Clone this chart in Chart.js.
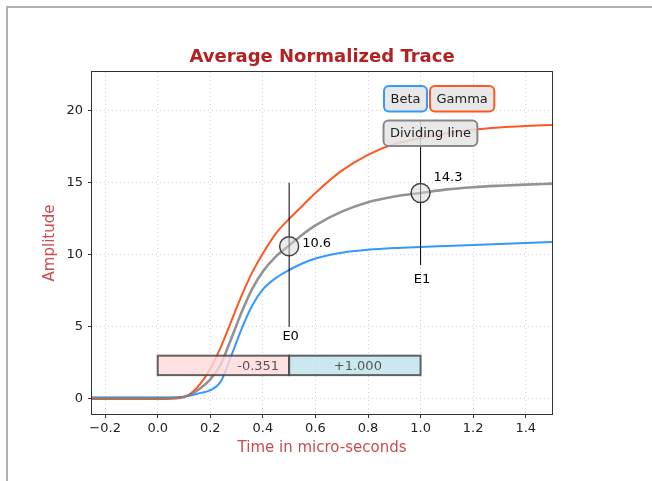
<!DOCTYPE html>
<html>
<head>
<meta charset="utf-8">
<script src="https://cdn.jsdelivr.net/npm/chart.js@4.4.0/dist/chart.umd.min.js"></script>
<style>
  html, body { margin: 0; padding: 0; background: #fff; }
  #wrap { position: relative; width: 652px; height: 481px; overflow: hidden; }
  #frame { position: absolute; left: 6px; top: 6px; width: 800px; height: 600px;
           border-left: 2px solid #b0b0b0; border-top: 2px solid #b0b0b0; }
  canvas { position: absolute; left: 0; top: 0; }
</style>
</head>
<body>
<div id="wrap">
  <div id="frame"></div>
  <canvas id="trace-chart" width="652" height="481"></canvas>
</div>
<script>
// sample times (micro-seconds) and the three traces
const times   = [-0.25, 0, 0.08, 0.12, 0.16, 0.2, 0.24, 0.28, 0.32, 0.36, 0.4, 0.45, 0.5, 0.55, 0.6, 0.7, 0.8, 0.9, 1.0, 1.1, 1.2, 1.3, 1.4, 1.5];
const beta    = [0.1, 0.1, 0.12, 0.22, 0.4, 0.6, 1.2, 3.0, 4.9, 6.5, 7.6, 8.4, 8.95, 9.4, 9.75, 10.15, 10.35, 10.47, 10.55, 10.62, 10.69, 10.76, 10.83, 10.9];
const gamma   = [0, 0, 0.05, 0.3, 1.0, 2.1, 3.6, 5.4, 7.2, 8.8, 10.1, 11.5, 12.5, 13.4, 14.3, 15.85, 16.95, 17.7, 18.1, 18.45, 18.7, 18.85, 18.95, 19.02];
const average = [0.05, 0.05, 0.085, 0.26, 0.7, 1.35, 2.4, 4.2, 6.05, 7.65, 8.85, 9.9, 10.65, 11.4, 12.05, 13.0, 13.65, 14.05, 14.3, 14.55, 14.7, 14.8, 14.88, 14.95];

// event markers on the average trace
const eventNames  = ['E0', 'E1'];
const eventTimes  = [0.5, 1.0];
const eventValues = [10.6, 14.3];
const eventLow    = [5.0, 9.3];
const eventHigh   = [15.0, 19.3];
const eventLabelY = [4.3, 8.3];

// split band below the traces
const spanEdges  = [0, 0.5, 1.0];
const spanLabels = ['-0.351', '+1.000'];
const spanBand   = [1.65, 3.0];

const xTicks = [-0.2, 0, 0.2, 0.4, 0.6, 0.8, 1.0, 1.2, 1.4];
const yTicks = [0, 5, 10, 15, 20];

const FONT = "'DejaVu Sans', sans-serif";

const toPoints = (xs, ys) => xs.map((x, i) => ({ x: x, y: ys[i] }));

const traceStyle = (color, width) => ({
  type: 'line',
  borderColor: color,
  borderWidth: width,
  pointRadius: 0,
  fill: false,
  cubicInterpolationMode: 'monotone'
});

const eventLines = eventTimes.map((t, i) => ({
  type: 'line',
  data: [{ x: t, y: eventLow[i] }, { x: t, y: eventHigh[i] }],
  borderColor: '#000',
  borderWidth: 1,
  pointRadius: 0
}));

function roundRect(ctx, x, y, w, h, r) {
  ctx.beginPath();
  ctx.moveTo(x + r, y);
  ctx.arcTo(x + w, y, x + w, y + h, r);
  ctx.arcTo(x + w, y + h, x, y + h, r);
  ctx.arcTo(x, y + h, x, y, r);
  ctx.arcTo(x, y, x + w, y, r);
  ctx.closePath();
}

const decor = {
  id: 'decor',
  afterDatasetsDraw(chart) {
    const { ctx, chartArea: a, scales: { x, y } } = chart;
    ctx.save();

    // two-tone band with the split values
    const top = y.getPixelForValue(spanBand[1]);
    const bot = y.getPixelForValue(spanBand[0]);
    const fills = ['rgba(255,218,218,0.8)', 'rgba(190,226,236,0.8)'];
    for (let i = 0; i < spanLabels.length; i++) {
      const x0 = x.getPixelForValue(spanEdges[i]);
      const x1 = x.getPixelForValue(spanEdges[i + 1]);
      ctx.fillStyle = fills[i];
      ctx.fillRect(x0, top, x1 - x0, bot - top);
      ctx.strokeStyle = 'rgba(70,70,70,0.85)';
      ctx.lineWidth = 2;
      ctx.strokeRect(x0, top, x1 - x0, bot - top);
    }
    ctx.font = '13px ' + FONT;
    ctx.fillStyle = '#555';
    ctx.textBaseline = 'middle';
    const mid = (top + bot) / 2 + 1;
    ctx.textAlign = 'right';
    ctx.fillText(spanLabels[0], x.getPixelForValue(spanEdges[1]) - 10, mid);
    ctx.textAlign = 'center';
    ctx.fillText(spanLabels[1], (x.getPixelForValue(spanEdges[1]) + x.getPixelForValue(spanEdges[2])) / 2 + 3, mid);

    // event names and values
    ctx.fillStyle = '#000';
    const offsets = [[13, -3], [13, -15]];
    eventTimes.forEach((t, i) => {
      const px = x.getPixelForValue(t);
      ctx.textAlign = 'center';
      ctx.fillText(eventNames[i], px + 1.5, y.getPixelForValue(eventLabelY[i]));
      ctx.textAlign = 'left';
      ctx.fillText(eventValues[i].toFixed(1), px + offsets[i][0], y.getPixelForValue(eventValues[i]) + offsets[i][1]);
    });

    // key boxes in the upper right
    const boxes = [
      { text: 'Beta', color: '#3399ff', row: 0 },
      { text: 'Gamma', color: '#ff5722', row: 0 },
      { text: 'Dividing line', color: '#888888', row: 1 }
    ];
    let bx = a.left + 292;
    boxes.forEach(b => {
      if (b.row === 1) bx = a.left + 291.5;
      const w = ctx.measureText(b.text).width + 13;
      const by = a.top + (b.row === 0 ? 14 : 48.5);
      roundRect(ctx, bx, by, w, 25.5, 5);
      ctx.fillStyle = 'rgba(228,228,228,0.85)';
      ctx.fill();
      ctx.strokeStyle = b.color;
      ctx.lineWidth = 2;
      ctx.stroke();
      ctx.fillStyle = '#222';
      ctx.textAlign = 'left';
      ctx.fillText(b.text, bx + 6.5, by + 13.5);
      bx += w + 3;
    });
    ctx.restore();
  },
  afterDraw(chart) {
    const { ctx, chartArea: a } = chart;
    ctx.save();
    ctx.strokeStyle = '#333';
    ctx.lineWidth = 1;
    ctx.strokeRect(a.left - 0.5, a.top - 0.5, a.right - a.left + 1, a.bottom - a.top + 1);

    const cx = (a.left + a.right) / 2;
    ctx.textAlign = 'center';
    ctx.textBaseline = 'middle';
    ctx.fillStyle = '#b22222';
    ctx.font = 'bold 18px ' + FONT;
    ctx.fillText('Average Normalized Trace', cx, 57);

    ctx.fillStyle = '#cc4b4b';
    ctx.font = '15px ' + FONT;
    ctx.fillText('Time in micro-seconds', cx, 448);
    ctx.translate(50, (a.top + a.bottom) / 2);
    ctx.rotate(-Math.PI / 2);
    ctx.fillText('Amplitude', 0, 0);
    ctx.restore();
  }
};

const gridStyle = {
  color: 'rgba(190,190,240,0.75)',
  lineWidth: 1,
  drawTicks: true,
  tickLength: 4,
  tickColor: '#333',
  tickWidth: 1
};

new Chart(document.getElementById('trace-chart'), {
  type: 'line',
  data: {
    datasets: [
      {
        type: 'scatter',
        data: toPoints(eventTimes, eventValues),
        pointRadius: 9.5,
        pointBackgroundColor: 'rgba(215,215,215,0.5)',
        pointBorderColor: '#444',
        pointBorderWidth: 1.5
      },
      ...eventLines,
      { ...traceStyle('rgba(128,128,128,0.85)', 2.6), data: toPoints(times, average) },
      { ...traceStyle('#ff5722', 2), data: toPoints(times, gamma) },
      { ...traceStyle('#3399ff', 2), data: toPoints(times, beta) }
    ]
  },
  options: {
    responsive: false,
    animation: false,
    events: [],
    layout: { padding: { left: 0, top: 72, right: 100, bottom: 0 } },
    plugins: { legend: { display: false }, title: { display: false }, tooltip: { enabled: false } },
    scales: {
      x: {
        type: 'linear',
        min: -0.25,
        max: 1.5,
        afterFit: s => { s.height = 67; },
        afterBuildTicks: s => { s.ticks = xTicks.map(v => ({ value: v })); },
        grid: gridStyle,
        border: { display: false, dash: [1, 3] },
        ticks: {
          color: '#222',
          padding: 3,
          maxRotation: 0,
          font: { family: FONT, size: 13 },
          callback: v => v.toFixed(1).replace('-', '\u2212')
        }
      },
      y: {
        type: 'linear',
        min: -1.05,
        max: 22.7,
        afterFit: s => { s.width = 92; },
        afterBuildTicks: s => { s.ticks = yTicks.map(v => ({ value: v })); },
        grid: gridStyle,
        border: { display: false, dash: [1, 3] },
        ticks: {
          color: '#222',
          padding: 5,
          font: { family: FONT, size: 13 },
          callback: v => String(v)
        }
      }
    }
  },
  plugins: [decor]
});
</script>
</body>
</html>
